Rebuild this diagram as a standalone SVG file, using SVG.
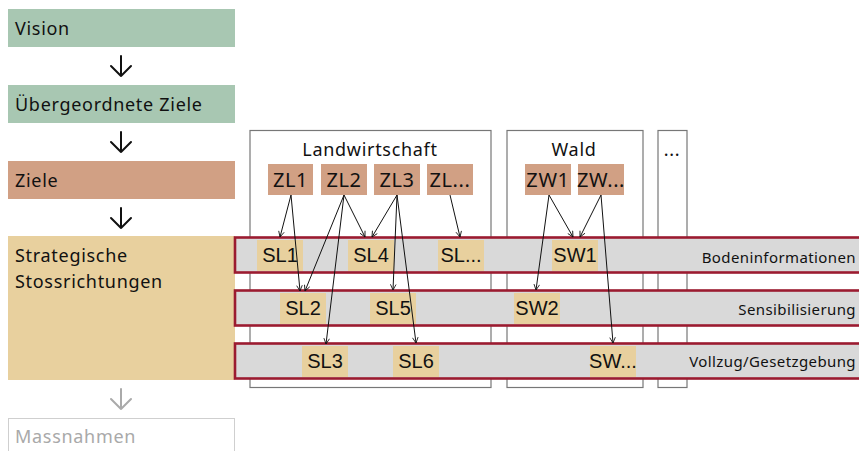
<svg xmlns="http://www.w3.org/2000/svg" width="859" height="451" viewBox="0 0 859 451">
<defs>
<style>
.t{font-family:"Noto Sans","DejaVu Sans",sans-serif;font-size:18px;fill:#111;letter-spacing:0.7px}
.zt{font-family:"Noto Sans","DejaVu Sans",sans-serif;font-size:20px;fill:#111;text-anchor:middle;letter-spacing:0.6px}
.st{font-family:"Liberation Sans",Arial,sans-serif;font-size:20px;fill:#111;text-anchor:middle}
.bt{font-family:"Noto Sans","DejaVu Sans",sans-serif;font-size:15px;fill:#111;letter-spacing:0.4px;text-anchor:end}
.green{fill:#a8c7b2}
.salmon{fill:#d1a084}
.tan{fill:#e8d09e}
.band{fill:#d9d9d9;stroke:#9b1b30;stroke-width:2.6}
.cont{fill:none;stroke:#777;stroke-width:1.2}
.conn{stroke:#111;stroke-width:1;fill:none;marker-end:url(#ah)}
.big{stroke:#111;stroke-width:2;fill:none;stroke-linecap:round;stroke-linejoin:round}
</style>
<marker id="ah" viewBox="0 0 10 10" refX="9" refY="5" markerWidth="7" markerHeight="7" orient="auto" markerUnits="userSpaceOnUse">
<path d="M1,1 L9,5 L1,9" fill="none" stroke="#111" stroke-width="1.2"/>
</marker>
</defs>

<!-- left column -->
<g id="vision"><rect class="green" x="8" y="9" width="227" height="38"/><text class="t" x="15" y="35">Vision</text></g>
<g id="uebergeordnete-ziele"><rect class="green" x="8" y="85" width="227" height="38"/><text class="t" x="15" y="111">Übergeordnete Ziele</text></g>
<g id="ziele"><rect class="salmon" x="8" y="161" width="227" height="38"/><text class="t" x="15" y="187">Ziele</text></g>
<g id="strategische-stossrichtungen"><rect class="tan" x="8" y="236" width="227" height="144"/><text class="t" x="15" y="262">Strategische</text><text class="t" x="15" y="288">Stossrichtungen</text></g>
<g id="massnahmen"><rect x="8.5" y="418.5" width="226" height="40" fill="#fff" stroke="#cfcfcf" stroke-width="1"/><text class="t" x="15" y="443" style="fill:#a9a9a9">Massnahmen</text></g>

<!-- containers -->
<g id="landwirtschaft"><rect class="cont" x="250" y="130.5" width="241" height="257"/><text class="t" x="370" y="156" text-anchor="middle">Landwirtschaft</text></g>
<g id="wald"><rect class="cont" x="507" y="130.5" width="136" height="257"/><text class="t" x="574" y="156" text-anchor="middle">Wald</text></g>
<g id="weitere"><rect class="cont" x="658" y="130.5" width="29" height="257"/><text class="t" x="672" y="156" text-anchor="middle">...</text></g>

<!-- bands -->
<g id="band-bodeninformationen"><rect class="band" x="235" y="237.5" width="640" height="35"/><text class="bt" x="856" y="263">Bodeninformationen</text></g>
<g id="band-sensibilisierung"><rect class="band" x="235" y="290.5" width="640" height="35"/><text class="bt" x="856" y="315">Sensibilisierung</text></g>
<g id="band-vollzug"><rect class="band" x="235" y="343.5" width="640" height="35"/><text class="bt" x="856" y="367">Vollzug/Gesetzgebung</text></g>

<!-- Ziele nodes -->
<g id="ZL1"><rect class="salmon" x="268" y="164" width="45" height="31"/><text class="zt" x="290.5" y="187">ZL1</text></g>
<g id="ZL2"><rect class="salmon" x="321" y="164" width="46" height="31"/><text class="zt" x="344" y="187">ZL2</text></g>
<g id="ZL3"><rect class="salmon" x="374" y="164" width="46" height="31"/><text class="zt" x="397" y="187">ZL3</text></g>
<g id="ZLx"><rect class="salmon" x="427" y="164" width="46" height="31"/><text class="zt" x="450" y="187">ZL...</text></g>
<g id="ZW1"><rect class="salmon" x="525" y="164" width="46" height="31"/><text class="zt" x="548" y="187">ZW1</text></g>
<g id="ZWx"><rect class="salmon" x="578" y="164" width="46" height="31"/><text class="zt" x="601" y="187">ZW...</text></g>

<!-- SL / SW nodes -->
<g id="SL1"><rect class="tan" x="257" y="240" width="46" height="31"/><text class="st" x="280" y="262">SL1</text></g>
<g id="SL4"><rect class="tan" x="348" y="240" width="46" height="31"/><text class="st" x="371" y="262">SL4</text></g>
<g id="SLx"><rect class="tan" x="438" y="240" width="46" height="31"/><text class="st" x="461" y="262">SL...</text></g>
<g id="SW1"><rect class="tan" x="552" y="240" width="46" height="31"/><text class="st" x="575" y="262">SW1</text></g>
<g id="SL2"><rect class="tan" x="280" y="293" width="46" height="31"/><text class="st" x="303" y="315">SL2</text></g>
<g id="SL5"><rect class="tan" x="370" y="293" width="46" height="31"/><text class="st" x="393" y="315">SL5</text></g>
<g id="SW2"><rect class="tan" x="514" y="293" width="46" height="31"/><text class="st" x="537" y="315">SW2</text></g>
<g id="SL3"><rect class="tan" x="302" y="346" width="46" height="31"/><text class="st" x="325" y="368">SL3</text></g>
<g id="SL6"><rect class="tan" x="393" y="346" width="46" height="31"/><text class="st" x="416" y="368">SL6</text></g>
<g id="SWx"><rect class="tan" x="590" y="346" width="46" height="31"/><text class="st" x="613" y="368">SW...</text></g>

<!-- connectors -->
<g id="connectors">
<path class="big" d="M121,56 V76 M111,66 L121,76 L131,66"/>
<path class="big" d="M121,132 V152 M111,142 L121,152 L131,142"/>
<path class="big" d="M121,208 V228 M111,218 L121,228 L131,218"/>
<path class="big" d="M121,389 V409 M111,399 L121,409 L131,399" style="stroke:#aaaaaa"/>

<line class="conn" x1="291" y1="195" x2="280" y2="237"/>
<line class="conn" x1="291" y1="195" x2="300" y2="291"/>
<line class="conn" x1="344" y1="195" x2="305" y2="291"/>
<line class="conn" x1="344" y1="195" x2="326" y2="344"/>
<line class="conn" x1="344" y1="195" x2="365" y2="237"/>
<line class="conn" x1="397" y1="195" x2="372" y2="237"/>
<line class="conn" x1="397" y1="195" x2="393" y2="290"/>
<line class="conn" x1="397" y1="195" x2="416" y2="343"/>
<line class="conn" x1="450" y1="195" x2="460" y2="237"/>
<line class="conn" x1="549" y1="195" x2="573" y2="237"/>
<line class="conn" x1="549" y1="195" x2="536" y2="290"/>
<line class="conn" x1="601" y1="195" x2="580" y2="237"/>
<line class="conn" x1="601" y1="195" x2="613" y2="343"/>
</g>
</svg>
